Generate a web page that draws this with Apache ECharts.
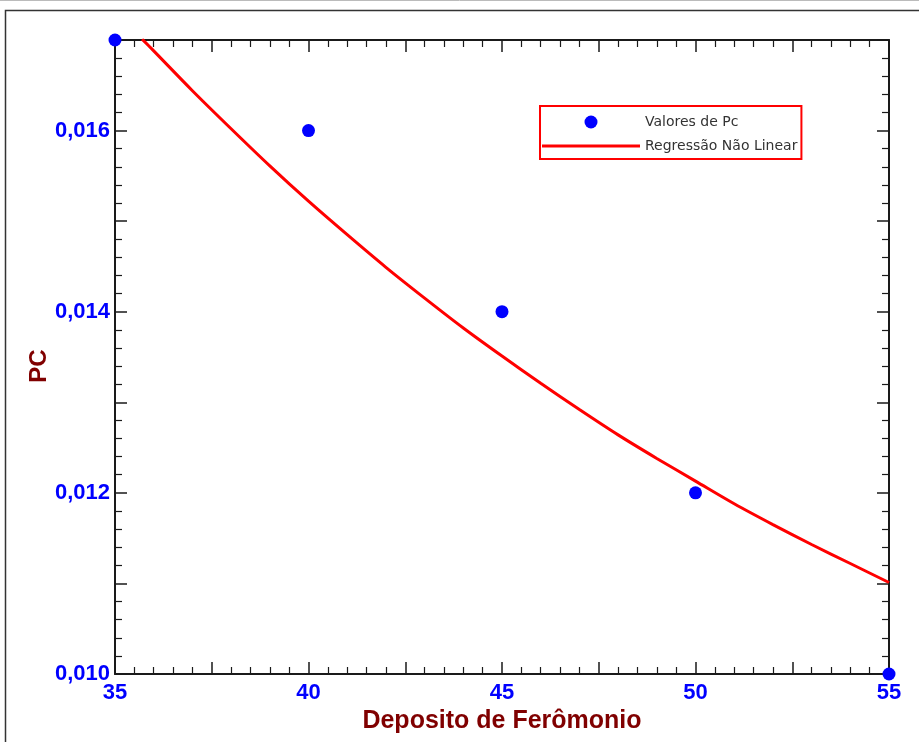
<!DOCTYPE html>
<html>
<head>
<meta charset="utf-8">
<script src="https://cdn.jsdelivr.net/npm/echarts@6/dist/echarts.min.js"></script>
<style>
  html, body { margin: 0; padding: 0; background: #fff; }
  #chart { width: 919px; height: 742px; }
</style>
</head>
<body>
<div id="chart"></div>
<script>
// Measured Pc values per pheromone deposit
const depositos = [35, 40, 45, 50, 55];
const valoresPc = [0.017, 0.016, 0.014, 0.012, 0.010];

// Fitted non-linear regression curve, sampled along the deposit axis
const curvaX = [35.7, 36, 37, 38, 39, 40, 41, 42, 43, 44, 45, 46, 47, 48, 49, 50, 51, 52, 53, 54, 55];
const curvaY = [0.01701, 0.01688, 0.01644, 0.01602, 0.01561, 0.01522, 0.01485, 0.01449, 0.01415,
                0.01382, 0.01351, 0.01321, 0.01292, 0.01264, 0.01238, 0.01213, 0.01188, 0.01165,
                0.01143, 0.01122, 0.01101];

const nomePontos = 'Valores de Pc';
const nomeCurva = 'Regressão Não Linear';
const tituloX = 'Deposito de Ferômonio';
const tituloY = 'PC';

const axisColor = '#1a1a1a';
const labelBlue = '#0000ff';
const titleRed = '#800000';

const chart = echarts.init(document.getElementById('chart'), null, { renderer: 'canvas' });

const xCommon = {
  type: 'value', min: 35, max: 55, interval: 2.5,
  axisLine: { show: true, onZero: false, lineStyle: { color: axisColor, width: 2 } },
  axisTick: { show: true, inside: true, length: 12, lineStyle: { color: axisColor, width: 1.5 } },
  minorTick: { show: true, splitNumber: 5, length: 7, lineStyle: { color: axisColor, width: 1.2 } },
  splitLine: { show: false }
};
const yCommon = {
  type: 'value', min: 0.010, max: 0.017, interval: 0.001,
  axisLine: { show: true, onZero: false, lineStyle: { color: axisColor, width: 2 } },
  axisTick: { show: true, inside: true, length: 12, lineStyle: { color: axisColor, width: 1.5 } },
  minorTick: { show: true, splitNumber: 5, length: 7, lineStyle: { color: axisColor, width: 1.2 } },
  splitLine: { show: false }
};

chart.setOption({
  animation: false,
  backgroundColor: '#fff',
  graphic: [
    { type: 'line', shape: { x1: 0, y1: 0.5, x2: 919, y2: 0.5 }, style: { stroke: '#bbb', lineWidth: 1 }, silent: true },
    { type: 'rect', shape: { x: 5.5, y: 10.5, width: 1000, height: 1000 }, style: { fill: 'none', stroke: '#333', lineWidth: 1.5 }, silent: true },
    {
      type: 'text', x: 39, y: 366, rotation: Math.PI / 2, silent: true,
      style: {
        text: tituloY, fill: titleRed, fontFamily: 'Liberation Sans', fontWeight: 'bold', fontSize: 24,
        align: 'center', verticalAlign: 'middle'
      }
    }
  ],
  grid: { left: 115, top: 40, right: 30, bottom: 68 },
  legend: {
    orient: 'vertical',
    left: 540, top: 106,
    padding: [9, 4, 6, 2],
    borderColor: '#ff0000', borderWidth: 2,
    itemWidth: 98, itemHeight: 13, itemGap: 10,
    textStyle: { fontFamily: 'DejaVu Sans', fontSize: 14, color: '#333' },
    data: [
      { name: nomePontos, icon: 'circle' },
      { name: nomeCurva, icon: 'path://M0,0 L98,0 L98,3 L0,3 Z' }
    ]
  },
  xAxis: [
    Object.assign({}, xCommon, {
      position: 'bottom',
      name: tituloX, nameLocation: 'middle', nameGap: 33,
      nameTextStyle: { fontFamily: 'Liberation Sans', fontWeight: 'bold', fontSize: 25, color: titleRed, verticalAlign: 'top' },
      axisLabel: {
        margin: 8, color: labelBlue, fontFamily: 'Liberation Sans', fontWeight: 'bold', fontSize: 22,
        formatter: v => (Math.abs(v % 5) < 1e-9 ? String(v) : '')
      }
    }),
    Object.assign({}, xCommon, { position: 'top', axisLabel: { show: false } })
  ],
  yAxis: [
    Object.assign({}, yCommon, {
      position: 'left',
      axisLabel: {
        margin: 5, color: labelBlue, fontFamily: 'Liberation Sans', fontWeight: 'bold', fontSize: 22,
        formatter: v => {
          const k = Math.round(v * 1000);
          return k % 2 === 0 ? (k / 1000).toFixed(3).replace('.', ',') : '';
        }
      }
    }),
    Object.assign({}, yCommon, { position: 'right', axisLabel: { show: false } })
  ],
  series: [
    {
      name: nomeCurva, type: 'line', smooth: 0.3, symbol: 'none',
      xAxisIndex: 0, yAxisIndex: 0,
      lineStyle: { color: '#ff0000', width: 3 },
      itemStyle: { color: '#ff0000' },
      data: curvaX.map((x, i) => [x, curvaY[i]]),
      z: 2
    },
    {
      name: nomePontos, type: 'scatter', symbol: 'circle', symbolSize: 13,
      xAxisIndex: 0, yAxisIndex: 0, clip: false,
      itemStyle: { color: '#0000ff', opacity: 1 },
      data: depositos.map((x, i) => [x, valoresPc[i]]),
      z: 3
    }
  ]
});
</script>
</body>
</html>
